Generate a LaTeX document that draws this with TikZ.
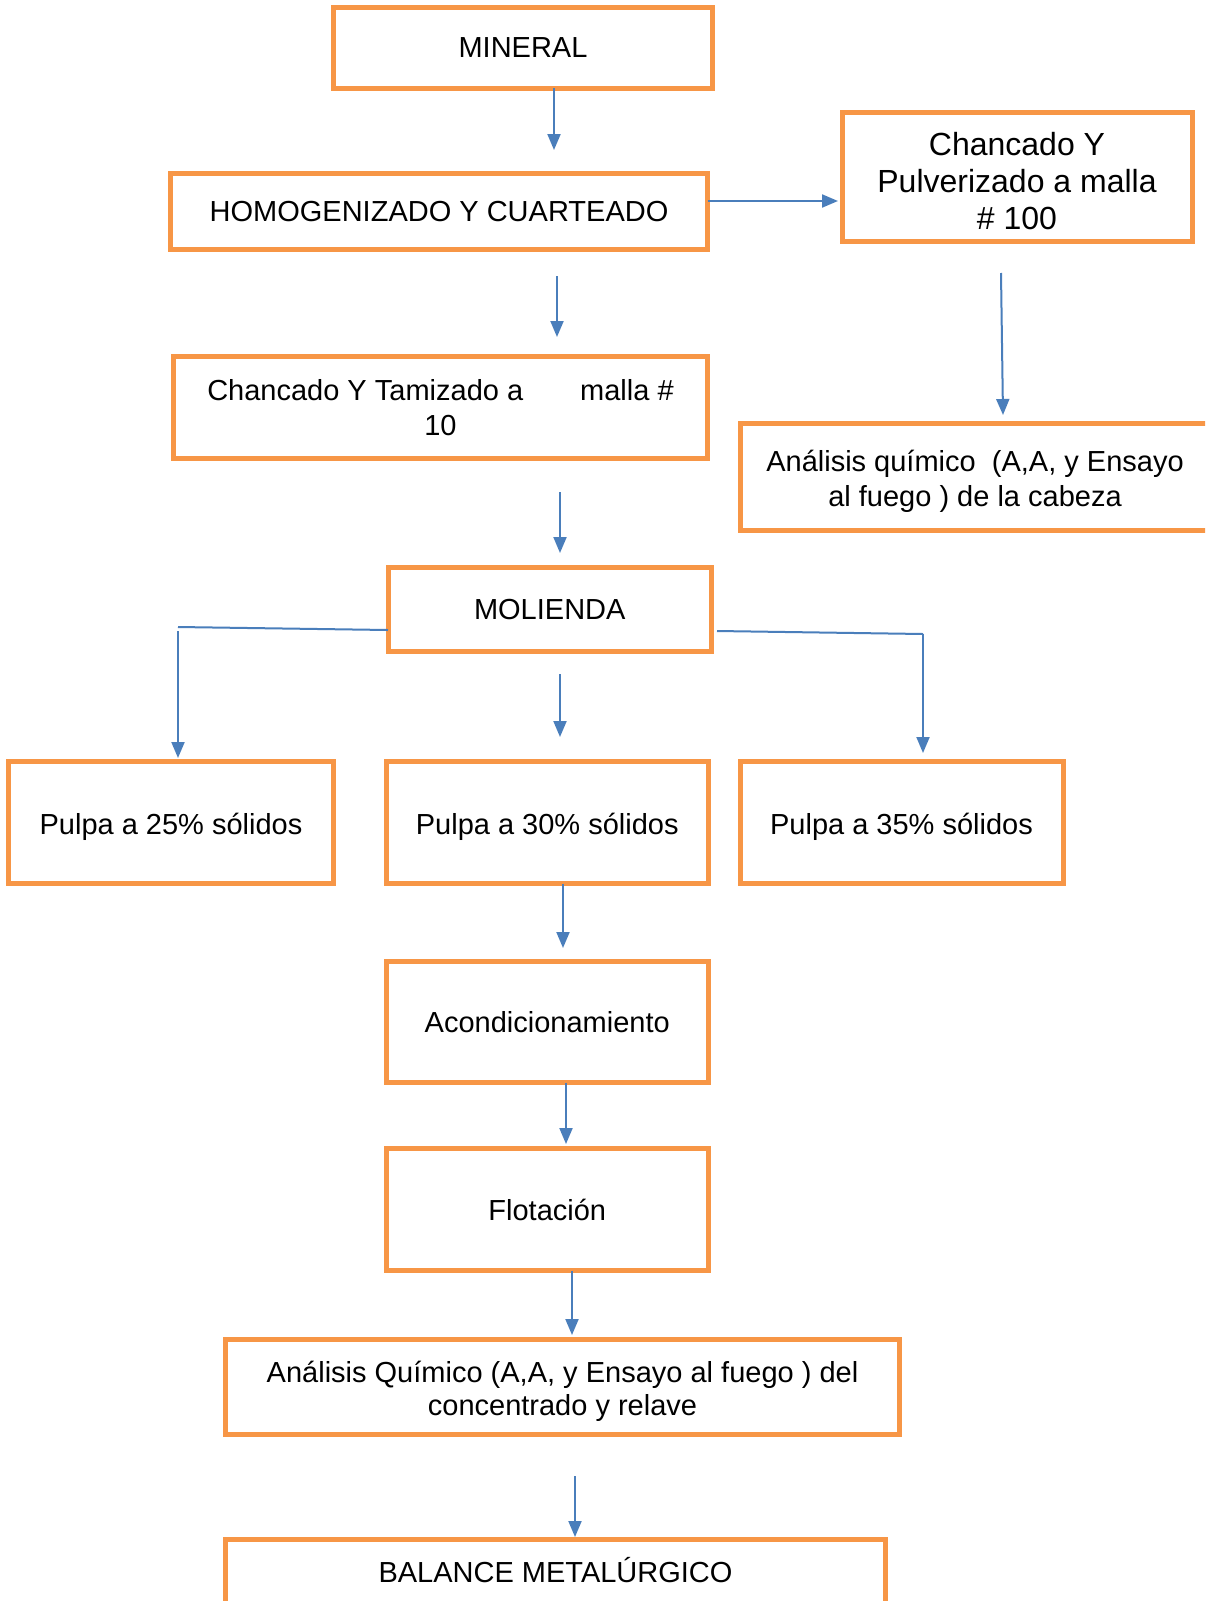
\documentclass[tikz,border=0pt]{standalone}
\usepackage{fontspec}
\setmainfont{Liberation Sans}
\usetikzlibrary{arrows.meta}
\definecolor{boxorange}{RGB}{247,150,70}
\definecolor{arrblue}{RGB}{74,126,187}
\begin{document}
\begin{tikzpicture}[x=1bp,y=-1bp,
  box/.style={draw=boxorange, line width=5bp, inner sep=0pt, outer sep=0pt,
    align=center, font=\fontsize{29bp}{35bp}\selectfont},
  pulpa/.style={box, text height=24bp, text depth=0bp},
  arr/.style={draw=arrblue, line width=2bp, -{Triangle[length=16bp,width=13bp]}},
  ln/.style={draw=arrblue, line width=2bp}]
\clip (0,0) rectangle (1205,1601);
\fill[white] (0,0) rectangle (1205,1601);

\node[box, minimum width=379bp, minimum height=80bp] (min) at (523,48) {MINERAL};
\node[box, minimum width=537bp, minimum height=76bp] (hom) at (439,211.5) {HOMOGENIZADO Y CUARTEADO};
\node[box, minimum width=350bp, minimum height=128bp, text height=105bp, text depth=0bp,
  font=\fontsize{32bp}{37bp}\selectfont] (pul) at (1017,177) {Chancado Y\\Pulverizado a malla\\\# 100};
\node[box, minimum width=534bp, minimum height=102bp] (tam) at (440.5,407.5)
  {Chancado Y Tamizado a\hspace{57bp}malla \#\\10};
\node[box, minimum width=470bp, minimum height=107bp, text height=65bp, text depth=6bp] (anq1) at (975,476.5)
  {Análisis químico\ \ (A,A, y Ensayo\\al fuego ) de la cabeza};
\node[box, minimum width=323.5bp, minimum height=84bp] (mol) at (549.75,609.5) {MOLIENDA};
\node[pulpa, minimum width=324bp, minimum height=122bp] (p25) at (171,822.5) {Pulpa a 25\% sólidos};
\node[pulpa, minimum width=322.5bp, minimum height=122bp] (p30) at (547.25,822.5) {Pulpa a 30\% sólidos};
\node[pulpa, minimum width=323bp, minimum height=122bp] (p35) at (901.5,822.5) {Pulpa a 35\% sólidos};
\node[box, minimum width=322.5bp, minimum height=121.5bp] (aco) at (547.25,1021.75) {Acondicionamiento};
\node[box, minimum width=322.5bp, minimum height=122bp] (flo) at (547.25,1209.5) {Flotación};
\node[box, minimum width=674bp, minimum height=95bp, text height=62bp, text depth=6bp,
  font=\fontsize{29bp}{33bp}\selectfont] (anq2) at (562.5,1387)
  {Análisis Químico (A,A, y Ensayo al fuego ) del\\concentrado y relave};
\node[box, minimum width=660bp, text height=43.5bp, text depth=37.5bp] (bal) at (555.5,1579.5)
  {BALANCE METALÚRGICO};

% connectors
\coordinate (e1) at (554,150);
\draw[arr] (min.south -| e1) -- (e1);
\coordinate (e2) at (838,201);
\draw[arr] (hom.east |- e2) -- (e2);
\coordinate (s3) at (557,276); \coordinate (e3) at (557,337);
\draw[arr] (s3) -- (e3);
\coordinate (s4) at (1001,273); \coordinate (e4) at (1003,415);
\draw[arr] (s4) -- (e4);
\coordinate (s5) at (560,492); \coordinate (e5) at (560,553);
\draw[arr] (s5) -- (e5);
% left branch
\coordinate (l0) at (390,630); \coordinate (l1) at (178,627);
\coordinate (l2) at (178,631); \coordinate (l3) at (178,758);
\draw[ln] (mol.west |- l0) -- (l1);
\draw[arr] (l2) -- (l3);
% right branch
\coordinate (r0) at (717,631); \coordinate (r1) at (923,634); \coordinate (r2) at (923,753);
\draw[ln] (r0) -- (r1);
\draw[arr] (r1) -- (r2);
% center
\coordinate (s8) at (560,674); \coordinate (e8) at (560,737);
\draw[arr] (s8) -- (e8);
\coordinate (e9) at (563,948);
\draw[arr] (p30.south -| e9) -- (e9);
\coordinate (e10) at (566,1144);
\draw[arr] (aco.south -| e10) -- (e10);
\coordinate (e11) at (572,1335);
\draw[arr] (flo.south -| e11) -- (e11);
\coordinate (s12) at (575,1476); \coordinate (e12) at (575,1537);
\draw[arr] (s12) -- (e12);
\end{tikzpicture}
\end{document}
